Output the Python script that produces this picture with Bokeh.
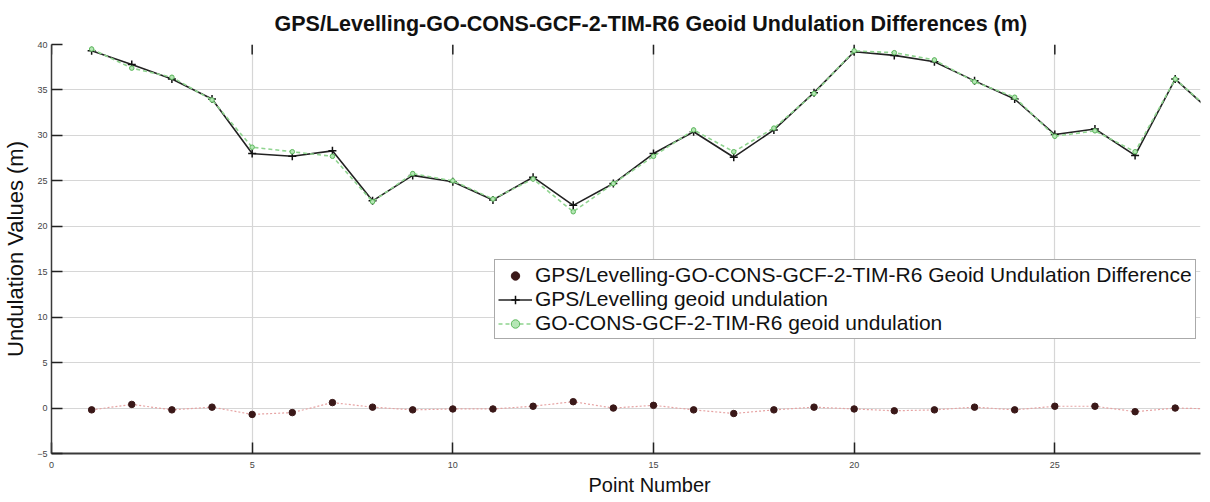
from bokeh.plotting import figure
from bokeh.models import (Range1d, LinearAxis, FixedTicker, Legend, LegendItem,
                          Title, ColumnDataSource)
from bokeh.embed import file_html
from bokeh.resources import INLINE

# Survey point numbers
points = list(range(1, 30))

# GPS/Levelling geoid undulation (m)
gps_levelling = [39.3, 37.8, 36.2, 34.0, 28.0, 27.7, 28.3, 22.8, 25.6, 24.9,
                 22.9, 25.4, 22.3, 24.7, 28.0, 30.4, 27.6, 30.6, 34.7, 39.2,
                 38.8, 38.1, 36.0, 34.0, 30.1, 30.7, 27.8, 36.2, 32.2]

# GO-CONS-GCF-2-TIM-R6 model geoid undulation (m)
tim_r6 = [39.5, 37.4, 36.4, 33.9, 28.7, 28.2, 27.7, 22.7, 25.8, 25.0,
          23.0, 25.2, 21.6, 24.7, 27.7, 30.6, 28.2, 30.8, 34.6, 39.3,
          39.1, 38.3, 35.9, 34.2, 29.9, 30.5, 28.2, 36.2, 32.3]

# Differences GPS/Levelling minus model (m)
differences = [-0.2, 0.4, -0.2, 0.1, -0.7, -0.5, 0.6, 0.1, -0.2, -0.1,
               -0.1, 0.2, 0.7, 0.0, 0.3, -0.2, -0.6, -0.2, 0.1, -0.1,
               -0.3, -0.2, 0.1, -0.2, 0.2, 0.2, -0.4, 0.0, -0.1]

x_ticks = [0, 5, 10, 15, 20, 25]
y_ticks = [-5, 0, 5, 10, 15, 20, 25, 30, 35, 40]

title_text = "GPS/Levelling-GO-CONS-GCF-2-TIM-R6 Geoid Undulation Differences (m)"
x_label = "Point Number"
y_label = "Undulation Values (m)"
legend_labels = [
    "GPS/Levelling-GO-CONS-GCF-2-TIM-R6 Geoid Undulation Difference",
    "GPS/Levelling geoid undulation",
    "GO-CONS-GCF-2-TIM-R6 geoid undulation",
]

FONT = "Liberation Sans"

src = ColumnDataSource(dict(x=points, gps=gps_levelling, tim=tim_r6, diff=differences))
top_src = ColumnDataSource(dict(x=x_ticks, y0=[40] * len(x_ticks),
                                y1=[38.9] * len(x_ticks)))

p = figure(width=1210, height=502, output_backend="svg", toolbar_location=None,
           x_range=Range1d(0, 28.63), y_range=Range1d(-5, 40),
           min_border_left=49, min_border_right=10, min_border_top=43,
           min_border_bottom=49, x_axis_location=None, y_axis_location=None)
p.outline_line_color = None
p.background_fill_color = "white"
p.border_fill_color = "white"

title = Title(text=title_text, align="left", offset=223,
              text_font=FONT, text_font_size="21.5px", text_font_style="bold",
              text_color="#111111", standoff=18)
p.add_layout(title, "above")

# axes
xaxis = LinearAxis(ticker=FixedTicker(ticks=x_ticks))
yaxis = LinearAxis(ticker=FixedTicker(ticks=y_ticks), axis_label=y_label)
for ax in (xaxis, yaxis):
    ax.axis_line_color = "#3a3a3a"
    ax.axis_line_width = 2
    ax.major_tick_line_color = "#222222"
    ax.major_tick_line_width = 1.5
    ax.major_tick_in = 11
    ax.major_tick_out = 0
    ax.minor_tick_line_color = None
    ax.major_label_text_font = FONT
    ax.major_label_text_font_size = "9px"
    ax.major_label_text_color = "#444444"
    ax.axis_label_text_font = FONT
    ax.axis_label_text_font_style = "normal"
    ax.axis_label_text_color = "#111111"
xaxis.major_label_standoff = 8
yaxis.axis_label_text_font_size = "22px"
yaxis.major_label_standoff = 4
yaxis.axis_label_standoff = 6
yaxis.axis_line_width = 1.5
p.add_layout(xaxis, "below")
p.add_layout(yaxis, "left")

# x axis title, set beneath the tick labels
xtitle = Title(text=x_label, align="left", offset=537, text_font=FONT,
               text_font_size="20px", text_font_style="normal",
               text_color="#111111", standoff=2)
p.add_layout(xtitle, "below")

p.xgrid.ticker = FixedTicker(ticks=x_ticks)
p.ygrid.ticker = FixedTicker(ticks=y_ticks)
for g in (p.xgrid, p.ygrid):
    g.grid_line_color = "#d6d6d6"
    g.grid_line_width = 1.2

# inward tick marks along the top edge
p.segment(x0="x", y0="y0", x1="x", y1="y1", source=top_src,
          line_color="#222222", line_width=1.5)

# difference series: dark markers on a faint dotted red line
d_line = p.line("x", "diff", source=src, line_color="#e6a3a3", line_width=1.2,
                line_dash="2 2")
d_pts = p.scatter("x", "diff", source=src, marker="circle", size=6.5,
                  fill_color="#3a1818", line_color="#3a1818")

# GPS/Levelling undulation: solid black with plus markers
g_line = p.line("x", "gps", source=src, line_color="#222222", line_width=1.6)
g_pts = p.scatter("x", "gps", source=src, marker="cross", size=8,
                  line_color="#111111", line_width=1.5)

# model undulation: light green dashed with small circle markers
t_line = p.line("x", "tim", source=src, line_color="#8fd48f", line_width=1.6,
                line_dash="4 3")
t_pts = p.scatter("x", "tim", source=src, marker="circle", size=4.5,
                  fill_color="#b5e6b5", line_color="#5cb85c", line_width=1)

legend = Legend(items=[
    LegendItem(label=legend_labels[0], renderers=[d_pts]),
    LegendItem(label=legend_labels[1], renderers=[g_line, g_pts]),
    LegendItem(label=legend_labels[2], renderers=[t_line, t_pts]),
], location=(443, 114))
legend.label_text_font = FONT
legend.label_text_font_size = "21px"
legend.label_text_color = "#111111"
legend.label_standoff = 3
legend.label_height = 21
legend.glyph_width = 34
legend.glyph_height = 21
legend.padding = 3
legend.spacing = 0
legend.margin = 0
legend.border_line_color = "#555555"
legend.border_line_width = 1.5
legend.background_fill_color = "white"
legend.background_fill_alpha = 1.0
p.add_layout(legend, "center")

open("out.html", "w").write(file_html(p, INLINE))
